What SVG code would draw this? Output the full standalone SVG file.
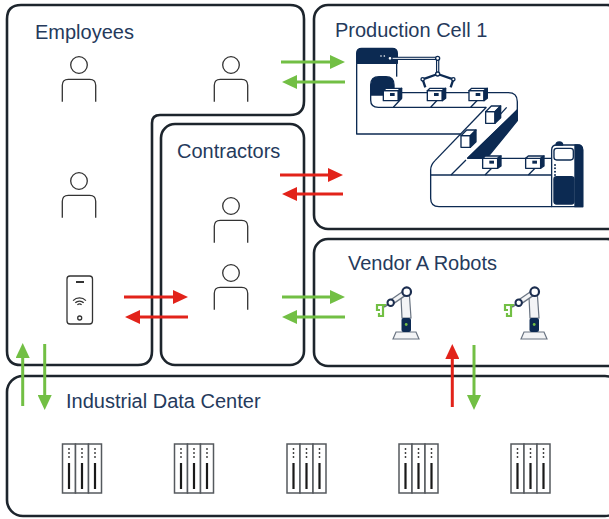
<svg xmlns="http://www.w3.org/2000/svg" width="609" height="519" viewBox="0 0 609 519">
<defs>
<style>
.zone{fill:#fff;stroke:#1d252d;stroke-width:2.6}
.label{font-family:"Liberation Sans",Arial,sans-serif;font-size:20px;fill:#253a5c}
.person{fill:none;stroke:#333;stroke-width:1.3}
.grn{stroke:#72bf44;stroke-width:3;fill:none}
.red{stroke:#e2231a;stroke-width:3;fill:none}
.rackcol{fill:#fff;stroke:#55595e;stroke-width:1.5}
.rackdot{fill:#333}
.rackbar{stroke:#1a1a1a;stroke-width:2.2}
.navy{fill:#0c2a52}
.robo-line{fill:#f3f4f6;stroke:#6a7482;stroke-width:1.2}
.joint{fill:#fff;stroke:#1b2d4f}
.grip{fill:none;stroke:#72bf44;stroke-width:2.2}
</style>
<marker id="headG" viewBox="0 0 15 14" refX="0" refY="7" markerWidth="15" markerHeight="14" markerUnits="userSpaceOnUse" orient="auto"><path d="M0,0 L15,7 L0,14 Z" fill="#72bf44"/></marker>
<marker id="headR" viewBox="0 0 15 14" refX="0" refY="7" markerWidth="15" markerHeight="14" markerUnits="userSpaceOnUse" orient="auto"><path d="M0,0 L15,7 L0,14 Z" fill="#e2231a"/></marker>
<g id="person">
  <circle cx="0" cy="0" r="8.3"/>
  <path d="M-16.7,36.7 V20.3 Q-16.7,14.3 -10.7,14.3 H10.7 Q16.7,14.3 16.7,20.3 V36.7"/>
</g>
<g id="rack">
  <rect class="rackcol" x="0" y="0" width="13" height="49"/>
  <rect class="rackcol" x="13" y="0" width="13" height="49"/>
  <rect class="rackcol" x="26" y="0" width="13" height="49"/>
  <g class="rackdot">
    <circle cx="6.5" cy="5" r="0.9"/><circle cx="6.5" cy="9" r="0.9"/><circle cx="6.5" cy="13" r="0.9"/>
    <circle cx="19.5" cy="5" r="0.9"/><circle cx="19.5" cy="9" r="0.9"/><circle cx="19.5" cy="13" r="0.9"/>
    <circle cx="32.5" cy="5" r="0.9"/><circle cx="32.5" cy="9" r="0.9"/><circle cx="32.5" cy="13" r="0.9"/>
  </g>
  <path class="rackbar" d="M6.5,19 V45 M19.5,19 V45 M32.5,19 V45"/>
</g>
<g id="robot">
  <path class="robo-line" d="M393,339 L396,332 H416 L419,339 Z" fill="#eef0f3"/>
  <path class="robo-line" d="M402,318 L401,297 L409,289 L411,318 Z"/>
  <line x1="406.7" y1="291.7" x2="390.7" y2="302.7" stroke="#6a7482" stroke-width="6"/>
  <line x1="406.7" y1="291.7" x2="390.7" y2="302.7" stroke="#f3f4f6" stroke-width="3.4"/>
  <line x1="390.7" y1="302.7" x2="384" y2="307" stroke="#6a7482" stroke-width="2"/>
  <rect class="navy" x="401.5" y="318" width="9.5" height="14" rx="2" fill="#1b2d4f"/>
  <circle cx="406.2" cy="324.5" r="1.4" fill="#72bf44"/>
  <circle class="joint" cx="406.7" cy="291.7" r="4.3" stroke-width="2.2"/>
  <circle class="joint" cx="390.7" cy="302.7" r="3.2" stroke-width="2"/>
  <path class="grip" d="M386,305 H377 V310 H380 M383,305 V316 H379 V313"/>
</g>
<!-- conveyor crates, drawn in the 3x local space of the cell line -->
<g id="crate">
  <path d="M0,7 H45 V37 H0 Z" fill="#fff"/>
  <path d="M0,7 L8,0 H55 L45,7 Z" fill="#fff"/>
  <path d="M45,7 L55,0 V30 L45,37 Z" fill="#0c2a52"/>
  <rect x="20" y="14" width="14" height="9" fill="#0c2a52" stroke="none"/>
</g>
<g id="crate-tall">
  <path d="M0,17 H28 V52 H0 Z" fill="#fff"/>
  <path d="M0,17 L17,0 H45 L28,17 Z" fill="#fff"/>
  <path d="M28,17 L45,0 V35 L28,52 Z" fill="#0c2a52"/>
</g>
</defs>

<rect width="609" height="519" fill="#fff"/>

<g id="employees">
  <path class="zone" d="M7,19 Q7,5 21,5 H290 Q304,5 304,19 V101 Q304,115 290,115 H160 Q152,115 152,123 V351 Q152,365 138,365 H21 Q7,365 7,351 Z"/>
  <text class="label" x="35" y="39">Employees</text>
  <use href="#person" class="person" x="79" y="65"/>
  <use href="#person" class="person" x="231" y="65"/>
  <use href="#person" class="person" x="79" y="181"/>
  <g id="phone" fill="none" stroke="#333" stroke-width="1.3">
    <rect x="67" y="276" width="25.5" height="48" rx="3"/>
    <line x1="76" y1="282" x2="84" y2="282" stroke-width="2"/>
    <path d="M73.1,300.6 A9,9 0 0 1 85.9,300.6 M75.3,302.8 A6,6 0 0 1 83.7,302.8 M77.4,304.9 A3,3 0 0 1 81.6,304.9"/>
    <circle cx="79.7" cy="318" r="2"/>
  </g>
</g>

<g id="contractors">
  <rect class="zone" x="161" y="124" width="143" height="241" rx="14"/>
  <text class="label" x="177" y="158">Contractors</text>
  <use href="#person" class="person" x="231" y="206"/>
  <use href="#person" class="person" x="231" y="273"/>
</g>

<g id="production-cell">
  <rect class="zone" x="314" y="5" width="307" height="224" rx="14"/>
  <text class="label" x="335" y="37">Production Cell 1</text>
  <g id="cell-line" transform="translate(340 30) scale(0.3333)" fill="none" stroke="#0c2a52" stroke-width="4" stroke-linejoin="round">
    <!-- machine housing -->
    <path d="M50,100 V312 H362"/>
    <path d="M170,100 V140"/>
    <path d="M50,100 V70 Q50,55 65,55 H157 Q172,55 172,70 V100 Z" fill="#0c2a52"/>
    <circle cx="123" cy="78" r="2.5" fill="#fff" stroke="none"/>
    <circle cx="133" cy="78" r="2.5" fill="#fff" stroke="none"/>
    <!-- gantry arm -->
    <path d="M150,85 H293 V132" stroke-width="10"/>
    <path d="M150,85 H293 V132" stroke="#fff" stroke-width="3"/>
    <path d="M293,132 L248,148 L256,172 M293,132 L340,148 L332,172" stroke-width="7"/>
    <circle cx="150" cy="85" r="6" fill="#fff"/>
    <circle cx="293" cy="85" r="6" fill="#fff"/>
    <circle cx="293" cy="132" r="6" fill="#fff"/>
    <circle cx="248" cy="148" r="5" fill="#fff"/>
    <circle cx="340" cy="148" r="5" fill="#fff"/>
    <!-- upper belt -->
    <path d="M160,188 H505 Q532,188 532,215 V240"/>
    <path d="M439,232 H115 Q92,232 92,210 V190"/>
    <path d="M92,195 V165 Q92,140 117,140 H138 Q162,140 162,165 V195 Z" fill="#0c2a52"/>
    <path d="M160,232 L185,205 M272,232 L297,205 M392,232 L415,208"/>
    <!-- diagonal run -->
    <path d="M439,232 L285,392"/>
    <path d="M532,240 L383,385"/>
    <path d="M532,240 V272 L440,385 H383 Z" fill="#0c2a52"/>
    <path d="M500,232 L470,265" />
    <!-- lower belt -->
    <path d="M285,392 Q272,405 272,420 V505 Q272,530 297,530 H635"/>
    <path d="M272,435 H635"/>
    <path d="M383,385 H635"/>
    <path d="M333,435 L378,390 M435,435 L455,415 M565,435 L585,415"/>
    <use href="#crate" x="130" y="175"/>
    <use href="#crate" x="262" y="175"/>
    <use href="#crate" x="387" y="175"/>
    <use href="#crate-tall" x="437" y="228"/>
    <use href="#crate-tall" x="363" y="300"/>
    <use href="#crate" x="428" y="378"/>
    <use href="#crate" x="557" y="378"/>
    <!-- control cabinet -->
    <path d="M635,530 V360 Q635,345 650,345 H713 Q728,345 728,360 V530 Z" fill="#fff"/>
    <path d="M705,345 H713 Q728,345 728,360 V530 H705 Z" fill="#0c2a52"/>
    <path d="M648,345 Q648,336 658,336 Q668,336 668,345 Z" fill="#0c2a52"/>
    <rect x="642" y="355" width="58" height="35" rx="8" fill="#fff"/>
    <g fill="#0c2a52" stroke="none">
      <circle cx="645" cy="405" r="3"/><circle cx="645" cy="415" r="3"/><circle cx="645" cy="425" r="3"/><circle cx="645" cy="435" r="3"/>
    </g>
    <rect x="642" y="440" width="60" height="82" rx="8" fill="#0c2a52"/>
  </g>
</g>

<g id="vendor-a-robots">
  <rect class="zone" x="314" y="239" width="307" height="127" rx="14"/>
  <text class="label" x="348" y="270">Vendor A Robots</text>
  <use href="#robot"/>
  <use href="#robot" transform="translate(128 0)"/>
</g>

<g id="industrial-data-center">
  <rect class="zone" x="7" y="376" width="614" height="140" rx="16"/>
  <text class="label" x="66" y="408">Industrial Data Center</text>
  <use href="#rack" x="62.5" y="444"/>
  <use href="#rack" x="174.5" y="444"/>
  <use href="#rack" x="287" y="444"/>
  <use href="#rack" x="399" y="444"/>
  <use href="#rack" x="511" y="444"/>
</g>

<g id="connectors">
  <line class="grn" x1="281" y1="62" x2="330" y2="62" marker-end="url(#headG)"/>
  <line class="grn" x1="345" y1="82" x2="297" y2="82" marker-end="url(#headG)"/>
  <line class="red" x1="280" y1="175" x2="328" y2="175" marker-end="url(#headR)"/>
  <line class="red" x1="343" y1="194" x2="297" y2="194" marker-end="url(#headR)"/>
  <line class="red" x1="124" y1="297" x2="173" y2="297" marker-end="url(#headR)"/>
  <line class="red" x1="188" y1="317" x2="140" y2="317" marker-end="url(#headR)"/>
  <line class="grn" x1="282" y1="297" x2="330" y2="297" marker-end="url(#headG)"/>
  <line class="grn" x1="345" y1="317" x2="297" y2="317" marker-end="url(#headG)"/>
  <line class="grn" x1="22.7" y1="406" x2="22.7" y2="358" marker-end="url(#headG)"/>
  <line class="grn" x1="44.7" y1="344" x2="44.7" y2="395" marker-end="url(#headG)"/>
  <line class="red" x1="452.3" y1="407" x2="452.3" y2="359" marker-end="url(#headR)"/>
  <line class="grn" x1="474" y1="345" x2="474" y2="395" marker-end="url(#headG)"/>
</g>
</svg>
